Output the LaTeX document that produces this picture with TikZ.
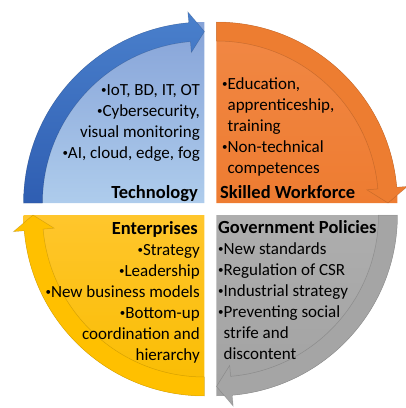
\documentclass[tikz,border=0pt]{standalone}
\usepackage{fontspec}
\setmainfont{Carlito}
\definecolor{techtop}{HTML}{86A3D8}
\definecolor{techbot}{HTML}{AECCEC}
\definecolor{techlight}{HTML}{4A80CC}
\definecolor{techdark}{HTML}{2F5EB2}
\definecolor{worktop}{HTML}{F18845}
\definecolor{workbot}{HTML}{EE7C31}
\definecolor{workband}{HTML}{ED7D31}
\definecolor{govtop}{HTML}{AEAEAE}
\definecolor{govbot}{HTML}{A2A2A2}
\definecolor{govband}{HTML}{A5A5A5}
\definecolor{enttop}{HTML}{FFC62C}
\definecolor{entbot}{HTML}{F9BC00}
\definecolor{entband}{HTML}{FFC000}
\newcommand{\bul}{\raisebox{2pt}{\fontsize{11}{11}\selectfont •}}
\newcommand{\hng}{\phantom{\bul}}
\tikzstyle{band} = [draw=black, draw opacity=0.15, line width=0.5pt]
\tikzstyle{techfill} = [top color=techtop, bottom color=techbot]
\tikzstyle{techband} = [band, top color=techlight, bottom color=techdark]
\tikzstyle{workfill} = [top color=worktop, bottom color=workbot]
\tikzstyle{workarrow} = [band, fill=workband]
\tikzstyle{govfill} = [top color=govtop, bottom color=govbot]
\tikzstyle{govarrow} = [band, fill=govband]
\tikzstyle{entfill} = [top color=enttop, bottom color=entbot]
\tikzstyle{entarrow} = [band, fill=entband]
\tikzstyle{txt} = [inner sep=0pt, font=\fontsize{17}{21}\selectfont]
\tikzstyle{ttl} = [inner sep=0pt, font=\fontsize{18.5}{21}\selectfont\bfseries]

\begin{document}
\begin{tikzpicture}[x=1pt, y=1pt]
  \useasboundingbox (-210.5,-199) rectangle (195.5,209);
  % quarters
  \path[techfill] (-6,6) -- +(180:181pt) arc[start angle=180, end angle=90, radius=181pt] -- cycle;
  \path[workfill] (6,6) -- +(90:181pt) arc[start angle=90, end angle=0, radius=181pt] -- cycle;
  \path[govfill] (6,-6) -- +(0:181pt) arc[start angle=0, end angle=-90, radius=181pt] -- cycle;
  \path[entfill] (-6,-6) -- +(270:181pt) arc[start angle=270, end angle=180, radius=181pt] -- cycle;
  % arrows round the rim
  \path[techband, shift={(-6,6)}] (180:162pt) -- (180:181pt) arc[start angle=180, end angle=95, radius=181pt]
    -- (95:192pt) -- (90:171.5pt) -- (95:151pt) -- (95:162pt) arc[start angle=95, end angle=180, radius=162pt] -- cycle;
  \path[workarrow, shift={(6,6)}] (90:162pt) -- (90:181pt) arc[start angle=90, end angle=5, radius=181pt]
    -- (5:192pt) -- (0:171.5pt) -- (5:151pt) -- (5:162pt) arc[start angle=5, end angle=90, radius=162pt] -- cycle;
  \path[govarrow, shift={(6,-6)}] (0:162pt) -- (0:181pt) arc[start angle=0, end angle=-85, radius=181pt]
    -- (-85:192pt) -- (-90:171.5pt) -- (-85:151pt) -- (-85:162pt) arc[start angle=-85, end angle=0, radius=162pt] -- cycle;
  \path[entarrow, shift={(-6,-6)}] (270:162pt) -- (270:181pt) arc[start angle=270, end angle=185, radius=181pt]
    -- (185:192pt) -- (180:171.5pt) -- (185:151pt) -- (185:162pt) arc[start angle=185, end angle=270, radius=162pt] -- cycle;
  % texts
  \node[ttl, anchor=base east] (tech) at (-12.5,11) {Technology};
  \node[txt, anchor=base east] (techlist) at (-10.5,114) {\begin{tabular}[t]{@{}r@{}}\bul IoT, BD, IT, OT\\\bul Cybersecurity,\\visual monitoring\\\bul AI, cloud, edge, fog\end{tabular}};
  \node[ttl, anchor=base west] (work) at (9.5,11) {Skilled Workforce};
  \node[txt, anchor=base west] (worklist) at (11.5,120) {\begin{tabular}[t]{@{}l@{}}\bul Education,\\\hng apprenticeship,\\\hng training\\\bul Non-technical\\\hng competences\end{tabular}};
  \node[ttl, anchor=base west] (gov) at (7.5,-24) {Government Policies};
  \node[txt, anchor=base west] (govlist) at (7.5,-45) {\begin{tabular}[t]{@{}l@{}}\bul New standards\\\bul Regulation of CSR\\\bul Industrial strategy\\\bul Preventing social\\\hng strife and\\\hng discontent\end{tabular}};
  \node[ttl, anchor=base east] (ent) at (-12.5,-25) {Enterprises};
  \node[txt, anchor=base east] (entlist) at (-10.5,-46) {\begin{tabular}[t]{@{}r@{}}\bul Strategy\\\bul Leadership\\\bul New business models\\\bul Bottom-up\\coordination and\\hierarchy\end{tabular}};
\end{tikzpicture}
\end{document}
